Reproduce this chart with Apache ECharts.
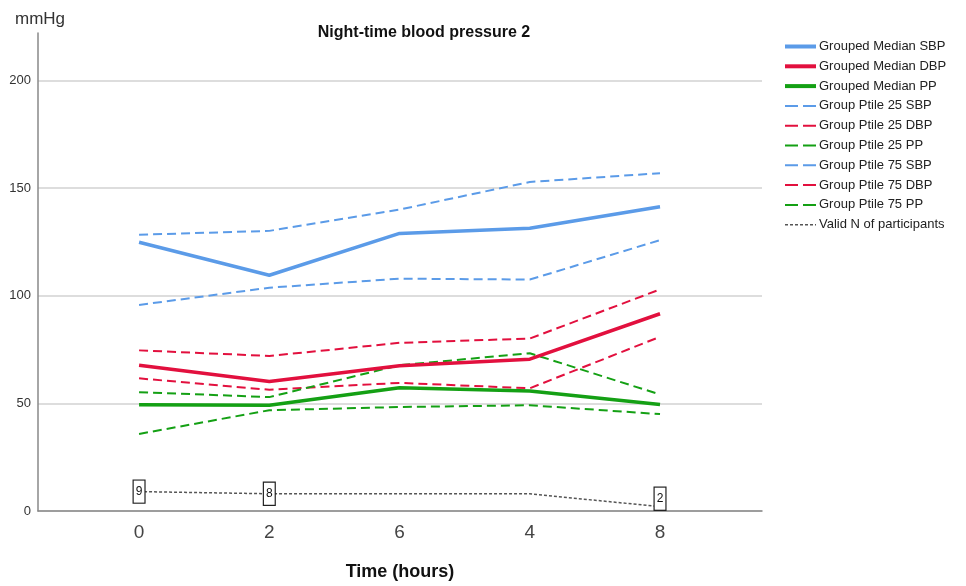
<!DOCTYPE html>
<html>
<head>
<meta charset="utf-8">
<title>Night-time blood pressure 2</title>
<script src="https://cdn.jsdelivr.net/npm/echarts@6/dist/echarts.min.js"></script>
<style>
  html, body { margin: 0; padding: 0; background: #fff; }
  #chart { width: 966px; height: 586px; }
</style>
</head>
<body>
<div id="chart"></div>
<script>
// time points, shown in the original (unsorted) order
var timeLabels = ['0', '2', '6', '4', '8']

var medianSBP = [124.8, 109.5, 128.9, 131.3, 141.3]
var medianDBP = [67.7, 60.1, 67.5, 70.5, 91.6]
var medianPP = [49.4, 49.1, 57.2, 55.7, 49.5]

var p25SBP = [95.7, 103.7, 107.9, 107.5, 125.8]
var p25DBP = [61.6, 56.3, 59.5, 57.0, 80.9]
var p25PP = [35.8, 46.8, 48.3, 49.1, 45.0]

var p75SBP = [128.3, 130.1, 140.0, 152.8, 156.9]
var p75DBP = [74.6, 72.0, 78.1, 80.1, 102.9]
var p75PP = [55.2, 52.9, 67.7, 73.3, 54.1]

var validN = [9, 8, 8, 8, 2]
var validNLabelShown = [true, true, false, false, true]

var yTicks = [0, 50, 100, 150, 200]

var blue = '#5b9be8'
var red = '#e2103e'
var green = '#14a014'

function pairs(values) {
  return values.map(function (v, i) { return [i, v] })
}

function lineSeries(name, values, color, width, dashed) {
  return {
    name: name,
    type: 'line',
    data: pairs(values),
    symbol: 'none',
    animation: false,
    lineStyle: { color: color, width: width, type: dashed ? [9, 5] : 'solid' },
    itemStyle: { color: color }
  }
}

var nData = validN.map(function (v, i) {
  return {
    value: [i, v],
    label: {
      show: validNLabelShown[i],
      offset: i === validN.length - 1 ? [0, -8] : [0, 0]
    }
  }
})

function legendItem(name, kind) {
  var ls = { width: 2, type: [13, 5] }
  if (kind === 'median') ls = { width: 4, type: 'solid' }
  if (kind === 'n') ls = { width: 1.5, type: [3, 2] }
  return { name: name, lineStyle: ls }
}

var chart = echarts.init(document.getElementById('chart'))

chart.setOption({
  backgroundColor: '#fff',
  textStyle: { fontFamily: 'Liberation Sans, Arial, sans-serif' },
  title: {
    text: 'Night-time blood pressure 2',
    left: 419,
    top: 20,
    textAlign: 'center',
    textStyle: { fontSize: 16, fontWeight: 'bold', color: '#111', fontFamily: 'Liberation Sans, Arial, sans-serif' }
  },
  graphic: [{
    type: 'text',
    left: 15,
    top: 11,
    style: { text: 'mmHg', fontSize: 17, fill: '#333', fontFamily: 'Liberation Sans, Arial, sans-serif' }
  }],
  legend: {
    orient: 'vertical',
    left: 778,
    top: 34,
    itemWidth: 31,
    itemHeight: 14,
    itemGap: 4.8,
    itemStyle: { opacity: 0 },
    textStyle: { fontSize: 13, color: '#222', lineHeight: 15, padding: [0, 0, 0, -2] },
    data: [
      legendItem('Grouped Median SBP', 'median'),
      legendItem('Grouped Median DBP', 'median'),
      legendItem('Grouped Median PP', 'median'),
      legendItem('Group Ptile 25 SBP', 'ptile'),
      legendItem('Group Ptile 25 DBP', 'ptile'),
      legendItem('Group Ptile 25 PP', 'ptile'),
      legendItem('Group Ptile 75 SBP', 'ptile'),
      legendItem('Group Ptile 75 DBP', 'ptile'),
      legendItem('Group Ptile 75 PP', 'ptile'),
      legendItem('Valid N of participants', 'n')
    ]
  },
  grid: { left: 38, right: 204, top: 33, bottom: 69, containLabel: false },
  xAxis: {
    type: 'value',
    min: -0.776,
    max: 4.783,
    name: 'Time (hours)',
    nameLocation: 'middle',
    nameGap: 52,
    nameTextStyle: { fontSize: 18, fontWeight: 'bold', color: '#111' },
    axisLine: { onZero: false, lineStyle: { color: '#888', width: 1.5 } },
    axisTick: { show: false },
    splitLine: { show: false },
    axisLabel: {
      customValues: [0, 1, 2, 3, 4],
      formatter: function (v) { return timeLabels[v] },
      fontSize: 19,
      color: '#444',
      margin: 12
    }
  },
  yAxis: {
    type: 'value',
    min: 0,
    max: 222,
    interval: 50,
    axisLine: { show: true, onZero: false, lineStyle: { color: '#888', width: 1.5 } },
    axisTick: { show: false },
    splitLine: {
      show: true,
      lineStyle: { color: ['#d2d2d2', '#d2d2d2', '#d2d2d2', '#d2d2d2', '#d2d2d2', 'rgba(0,0,0,0)'], width: 1.5 }
    },
    axisLabel: {
      customValues: yTicks,
      fontSize: 13,
      color: '#333',
      margin: 7
    }
  },
  series: [
    lineSeries('Group Ptile 25 SBP', p25SBP, blue, 2, true),
    lineSeries('Group Ptile 25 DBP', p25DBP, red, 2, true),
    lineSeries('Group Ptile 25 PP', p25PP, green, 2, true),
    lineSeries('Group Ptile 75 SBP', p75SBP, blue, 2, true),
    lineSeries('Group Ptile 75 DBP', p75DBP, red, 2, true),
    lineSeries('Group Ptile 75 PP', p75PP, green, 2, true),
    lineSeries('Grouped Median SBP', medianSBP, blue, 3.5, false),
    lineSeries('Grouped Median DBP', medianDBP, red, 3.5, false),
    lineSeries('Grouped Median PP', medianPP, green, 3.5, false),
    {
      name: 'Valid N of participants',
      type: 'line',
      data: nData,
      symbol: 'circle',
      symbolSize: 1,
      showSymbol: true,
      animation: false,
      lineStyle: { color: '#555', width: 1.5, type: [3, 2] },
      itemStyle: { color: 'rgba(0,0,0,0)' },
      label: {
        position: 'inside',
        fontSize: 12,
        lineHeight: 12,
        color: '#111',
        backgroundColor: '#fff',
        borderColor: '#222',
        borderWidth: 1.2,
        padding: [5, 2, 5, 2]
      }
    }
  ]
})
</script>
</body>
</html>
